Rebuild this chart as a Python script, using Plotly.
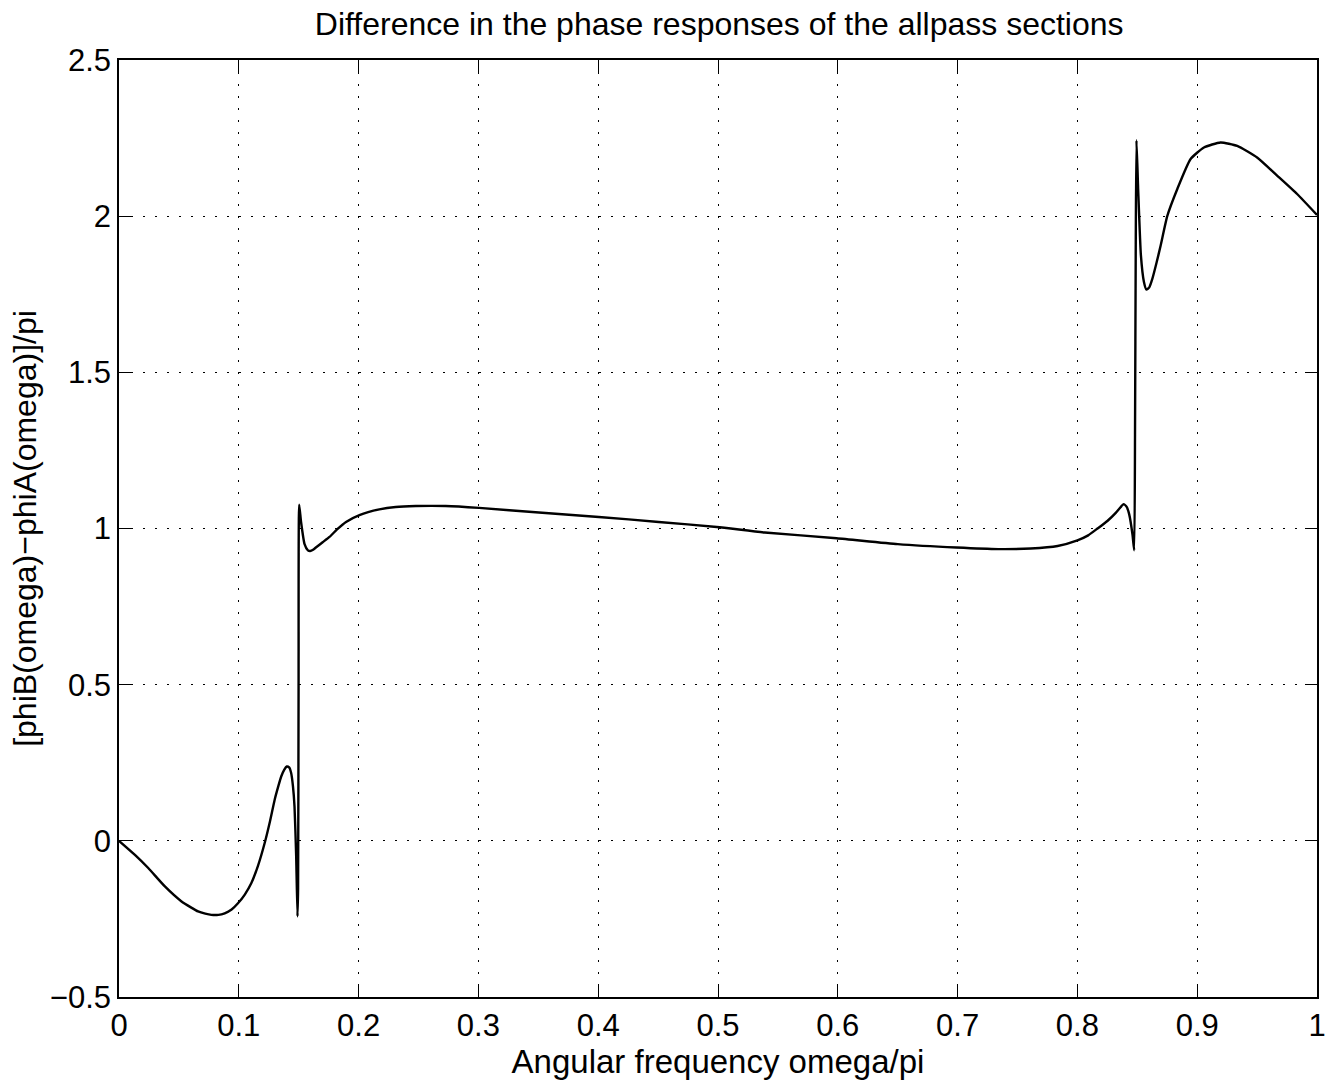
import plotly.graph_objects as go

# Angular frequency (omega/pi) and phase difference (in units of pi)
omega = [0.0, 0.0133, 0.0244, 0.0383, 0.0522, 0.0600, 0.0660, 0.0720, 0.0771, 0.0830,
         0.0882, 0.0940, 0.0993, 0.1050, 0.1104, 0.1160, 0.1216, 0.1260, 0.1299, 0.1330,
         0.1354, 0.1380, 0.1400, 0.1420, 0.1437, 0.1452, 0.1465, 0.1479, 0.1490, 0.1495,
         0.1499, 0.1504, 0.1520, 0.1549, 0.1577, 0.1596, 0.1620, 0.1646, 0.1700, 0.1757,
         0.1820, 0.1895, 0.2007, 0.2173, 0.2310, 0.2478, 0.2727, 0.3006, 0.3505, 0.4005,
         0.4505, 0.4990, 0.5390, 0.5990, 0.6500, 0.6990, 0.7340, 0.7610, 0.7835, 0.8000,
         0.8090, 0.8168, 0.8250, 0.8320, 0.8360, 0.8385, 0.8410, 0.8432, 0.8460, 0.8474,
         0.8481, 0.8487, 0.8493, 0.8507, 0.8530, 0.8555, 0.8576, 0.8600, 0.8626, 0.8660,
         0.8695, 0.8750, 0.8834, 0.8945, 0.9056, 0.9195, 0.9334, 0.9500, 0.9667, 0.9834,
         1.0]
phase_diff = [0.000, -0.045, -0.087, -0.146, -0.194, -0.213, -0.226, -0.233, -0.237, -0.237,
              -0.232, -0.220, -0.200, -0.172, -0.136, -0.080, -0.007, 0.062, 0.131, 0.175,
              0.206, 0.228, 0.238, 0.235, 0.217, 0.175, 0.110, -0.050, -0.242, -0.150,
              0.500, 1.076, 1.020, 0.950, 0.930, 0.928, 0.932, 0.940, 0.956, 0.973,
              0.997, 1.021, 1.043, 1.061, 1.069, 1.072, 1.072, 1.066, 1.051, 1.037,
              1.021, 1.005, 0.987, 0.969, 0.950, 0.939, 0.934, 0.936, 0.944, 0.962,
              0.978, 1.000, 1.024, 1.050, 1.068, 1.078, 1.070, 1.046, 0.980, 0.930,
              1.300, 1.900, 2.243, 2.088, 1.875, 1.790, 1.765, 1.772, 1.800, 1.850,
              1.906, 2.000, 2.087, 2.183, 2.220, 2.236, 2.225, 2.188, 2.130, 2.071,
              2.004]

x_ticks = [0, 0.1, 0.2, 0.3, 0.4, 0.5, 0.6, 0.7, 0.8, 0.9, 1]
y_ticks = [-0.5, 0, 0.5, 1, 1.5, 2, 2.5]

FONT = "Liberation Sans, Arial, Helvetica, sans-serif"

fig = go.Figure()
fig.add_trace(go.Scatter(x=omega, y=phase_diff, mode="lines",
                         line=dict(color="black", width=2.4, shape="spline", smoothing=0.5),
                         showlegend=False))

axis_common = dict(
    showline=True, linecolor="black", linewidth=1.5, mirror="allticks",
    ticks="inside", ticklen=12, tickwidth=1, tickcolor="black",
    showgrid=True, gridcolor="black", gridwidth=1, griddash="2px,10px",
    zeroline=False, tickfont=dict(family=FONT, size=31, color="black"),
)

fig.update_xaxes(range=[0, 1], tickvals=x_ticks, ticktext=[str(v) for v in x_ticks],
                 title=dict(text="Angular frequency omega/pi",
                            font=dict(family=FONT, size=33, color="black"), standoff=0),
                 **axis_common)
fig.update_yaxes(range=[-0.5, 2.5], tickvals=y_ticks,
                 ticktext=["\u22120.5", "0", "0.5", "1", "1.5", "2", "2.5"],
                 title=dict(text="[phiB(omega)\u2212phiA(omega)]/pi",
                            font=dict(family=FONT, size=32, color="black"), standoff=4),
                 **axis_common)

fig.update_layout(
    width=1338, height=1081,
    margin=dict(l=119, r=18, t=60, b=84),
    paper_bgcolor="white", plot_bgcolor="white",
    title=dict(text="Difference in the phase responses of the allpass sections",
               x=0.5375, xanchor="center", y=0.978, yanchor="middle",
               font=dict(family=FONT, size=32, color="black")),
)

fig.write_html("out.html")
